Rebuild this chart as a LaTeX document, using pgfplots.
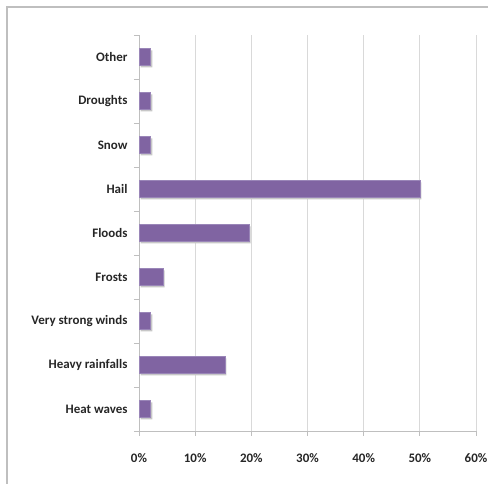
\documentclass[border=0pt]{standalone}
\usepackage{pgfplots}
\pgfplotsset{compat=1.18}
\usepackage{fontspec}
\setmainfont{Carlito}
\definecolor{barc}{HTML}{8064A2}
\definecolor{baredge}{HTML}{9A86B8}
\definecolor{gridc}{HTML}{D9D9D9}
\definecolor{axc}{HTML}{BFBFBF}
\begin{document}
\begin{tikzpicture}
\path[use as bounding box] (0,0) rectangle (488bp,484bp);
\draw[axc, line width=1.2bp] (7bp,0) -- (7bp,477bp) -- (488bp,477bp);
\begin{axis}[
  at={(139bp,53bp)}, anchor=south west,
  scale only axis, width=337bp, height=396bp,
  xbar, bar width=17bp,
  xmin=0, xmax=60, ymin=-0.5, ymax=8.5,
  xtick={0,10,20,30,40,50,60},
  xticklabels={0\%,10\%,20\%,30\%,40\%,50\%,60\%},
  ytick={0,...,8},
  yticklabels={Heat waves,Heavy rainfalls,Very strong winds,Frosts,Floods,Hail,Snow,Droughts,Other},
  minor ytick={-0.5,0.5,...,8.5},
  axis x line*=bottom, axis y line*=left,
  axis line style={axc, line width=0.8bp},
  x axis line style={-}, y axis line style={-},
  xmajorgrids, major x grid style={gridc, line width=0.8bp},
  tick style={axc, line width=0.8bp},
  major tick length=5bp, minor tick length=5bp,
  xtick pos=bottom, ytick pos=left,
  xtick align=outside, ytick align=outside,
  major y tick style={draw=none},
  tick label style={font=\fontsize{13}{15}\selectfont\bfseries, text=black!85},
  xticklabel style={yshift=-14bp},
  yticklabel style={xshift=-3bp},
]
\addplot[fill=barc, draw=baredge, line width=0.6bp,
  preaction={fill=black!22, draw=none, transform canvas={xshift=1.5bp,yshift=-1.8bp}}]
  coordinates {(2.1,0) (15.3,1) (2.1,2) (4.3,3) (19.6,4) (50,5) (2.1,6) (2.1,7) (2.1,8)};
\end{axis}
\end{tikzpicture}
\end{document}
